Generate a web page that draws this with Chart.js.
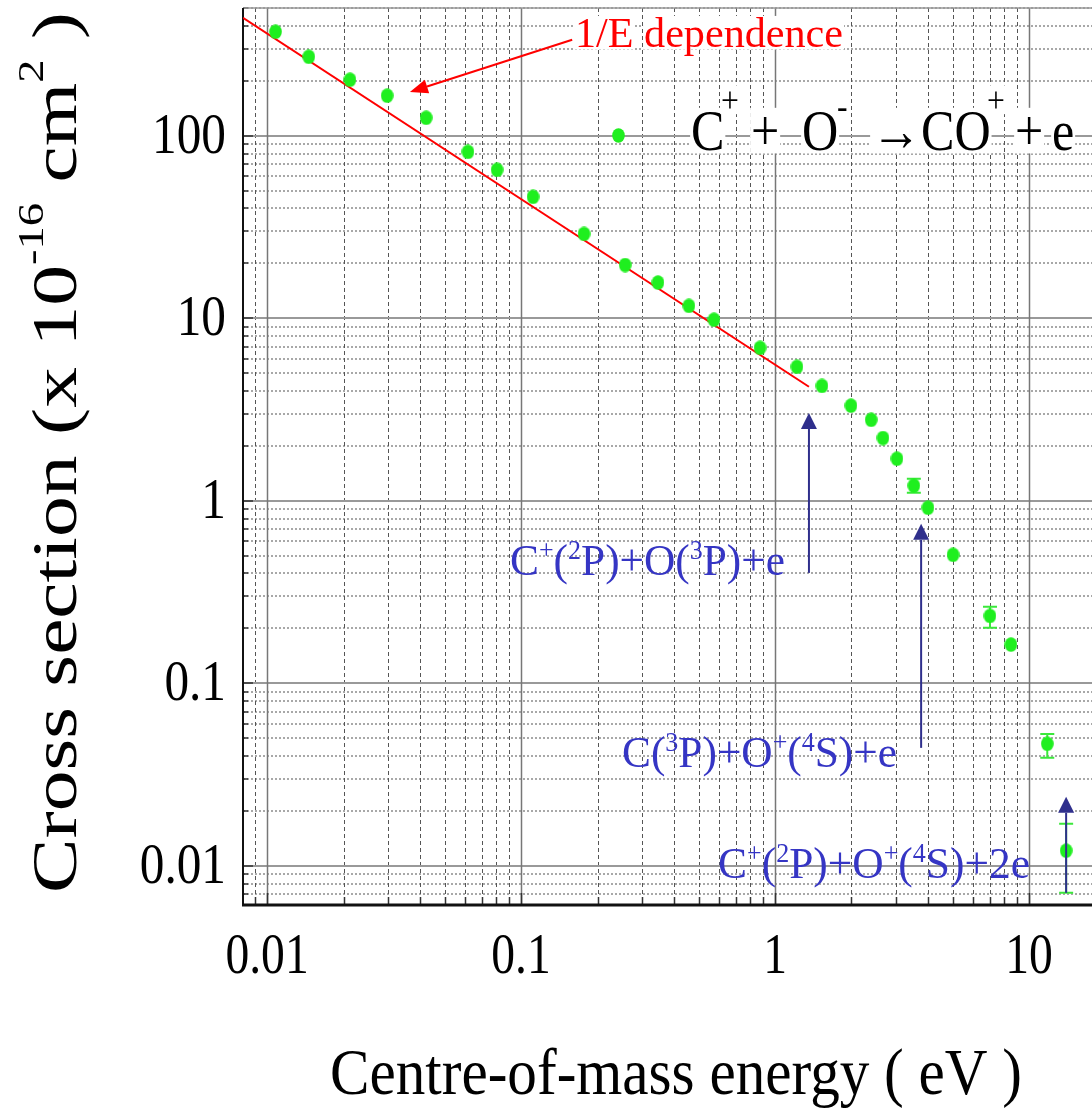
<!DOCTYPE html>
<html>
<head>
<meta charset="utf-8">
<script src="https://cdn.jsdelivr.net/npm/chart.js@4.4.0/dist/chart.umd.min.js"></script>
<style>
  body { margin: 0; background: #fff; }
  canvas { display: block; }
</style>
</head>
<body>
<canvas id="chart" width="1092" height="1111"></canvas>
<script>
// measured points: centre-of-mass energy (eV) vs cross section (1e-16 cm^2)
const energy = [0.0108, 0.0146, 0.0212, 0.0297, 0.0423, 0.0618, 0.0805, 0.1115, 0.177, 0.257,
  0.346, 0.458, 0.575, 0.873, 1.22, 1.53, 1.99, 2.39, 2.66, 3.02, 3.52, 4.00, 5.02, 7.02, 8.49, 11.8, 14.0];
const crossSection = [372, 271, 203, 166, 125.5, 81.7, 65.1, 46.3, 29.0, 19.6,
  15.7, 11.7, 9.82, 6.89, 5.42, 4.26, 3.32, 2.78, 2.21, 1.70, 1.21, 0.916, 0.506, 0.234, 0.163, 0.0466, 0.0121];
const errLow  = [null, null, null, null, null, null, null, null, null, null,
  null, null, null, null, null, null, null, null, null, null, 1.106, null, null, 0.2014, null, 0.0391, 0.00711];
const errHigh = [null, null, null, null, null, null, null, null, null, null,
  null, null, null, null, null, null, null, null, null, null, 1.32, null, null, 0.2626, null, 0.0528, 0.0170];

// 1/E dependence fit line end points
const fitEnergy = [0.00804, 1.36];
const fitSigma = [443, 4.22];

// tick labels
const xTickValues = [0.01, 0.1, 1, 10];
const xTickLabels = ['0.01', '0.1', '1', '10'];
const yTickValues = [0.01, 0.1, 1, 10, 100];
const yTickLabels = ['0.01', '0.1', '1', '10', '100'];

// threshold arrows [energy, tip sigma, tail sigma]
const thresholdArrows = [[1.36, 3.03, 0.403], [3.76, 0.748, 0.0443], [14.0, 0.0239, 0.00711]];

const serif = '"Liberation Serif", "Times New Roman", serif';

// green elliptical marker (picture is slightly stretched vertically)
const dot = document.createElement('canvas');
dot.width = 13; dot.height = 15;
(function () {
  const g = dot.getContext('2d');
  g.fillStyle = '#1fef1f';
  g.beginPath();
  g.ellipse(6.5, 7.5, 6.3, 7.3, 0, 0, Math.PI * 2);
  g.fill();
})();

// text with superscripts; segs = [[text, isSup], ...]
function drawRich(ctx, segs, o) {
  const ss = o.supSize || 0.6, sr = o.supRise || 0.36;
  const widths = segs.map(s => {
    ctx.font = (s[1] ? o.size * ss : o.size) + 'px ' + serif;
    return ctx.measureText(s[0]).width;
  });
  const w = widths.reduce((a, b) => a + b, 0);
  const sx = o.width ? o.width / w : (o.sx || 1);
  ctx.save();
  ctx.translate(o.x, o.y);
  if (o.rotate) ctx.rotate(o.rotate);
  const x0 = o.align === 'right' ? -w * sx : o.align === 'center' ? -w * sx / 2 : 0;
  ctx.translate(x0, 0);
  ctx.scale(sx, 1);
  ctx.textAlign = 'left';
  ctx.textBaseline = 'alphabetic';
  let cx = 0;
  segs.forEach((s, i) => {
    const fs = s[1] ? o.size * ss : o.size;
    const dy = s[1] ? -o.size * sr : 0;
    ctx.font = fs + 'px ' + serif;
    if (o.bg) {
      let bx = cx;
      for (const ch of s[0]) {
        const cw = ctx.measureText(ch).width;
        if (ch !== ' ') {
          ctx.fillStyle = o.bg;
          ctx.fillRect(bx - 1, dy - fs * 0.74, cw + 2, fs * 0.8);
        }
        bx += cw;
      }
    }
    ctx.fillStyle = o.color || '#000';
    ctx.fillText(s[0], cx, dy);
    cx += widths[i];
  });
  ctx.restore();
}

function drawArrow(ctx, x1, y1, x2, y2, color, lw, headLen, headHalf) {
  const a = Math.atan2(y2 - y1, x2 - x1);
  const bx = x2 - Math.cos(a) * headLen, by = y2 - Math.sin(a) * headLen;
  ctx.save();
  ctx.strokeStyle = color; ctx.fillStyle = color; ctx.lineWidth = lw;
  ctx.beginPath(); ctx.moveTo(x1, y1); ctx.lineTo(bx, by); ctx.stroke();
  ctx.beginPath();
  ctx.moveTo(x2, y2);
  ctx.lineTo(bx + Math.sin(a) * headHalf, by - Math.cos(a) * headHalf);
  ctx.lineTo(bx - Math.sin(a) * headHalf, by + Math.cos(a) * headHalf);
  ctx.closePath(); ctx.fill();
  ctx.restore();
}

function logValues(min, max) {
  const out = [];
  for (let d = -3; d <= 3; d++) {
    for (let m = 1; m <= 9; m++) {
      const v = m * Math.pow(10, d);
      if (v >= min && v <= max) out.push({ v: v, major: m === 1 });
    }
  }
  return out;
}

const gridPlugin = {
  id: 'grid',
  beforeDatasetsDraw(chart) {
    const { ctx, chartArea: { left, right, top, bottom }, scales: { x, y } } = chart;
    const xs = logValues(x.min, x.max), ys = logValues(y.min, y.max);
    ctx.save();
    // minor horizontals, dotted
    ctx.strokeStyle = '#a8a8a8'; ctx.lineWidth = 2; ctx.setLineDash([2, 2]);
    ys.filter(t => !t.major).forEach(t => {
      const py = Math.round(y.getPixelForValue(t.v));
      ctx.beginPath(); ctx.moveTo(left, py); ctx.lineTo(right, py); ctx.stroke();
    });
    // minor verticals, dashed
    ctx.strokeStyle = '#555'; ctx.lineWidth = 1; ctx.setLineDash([4, 3]);
    xs.filter(t => !t.major).forEach(t => {
      const px = Math.round(x.getPixelForValue(t.v)) + 0.5;
      ctx.beginPath(); ctx.moveTo(px, top); ctx.lineTo(px, bottom); ctx.stroke();
    });
    ctx.setLineDash([]);
    // majors
    ctx.strokeStyle = '#999'; ctx.lineWidth = 2;
    ys.filter(t => t.major).forEach(t => {
      const py = Math.round(y.getPixelForValue(t.v));
      ctx.beginPath(); ctx.moveTo(left, py); ctx.lineTo(right, py); ctx.stroke();
    });
    ctx.strokeStyle = '#777'; ctx.lineWidth = 1.5;
    xs.filter(t => t.major).forEach(t => {
      const px = Math.round(x.getPixelForValue(t.v)) + 0.5;
      ctx.beginPath(); ctx.moveTo(px, top); ctx.lineTo(px, bottom); ctx.stroke();
    });
    // small inward ticks
    ctx.strokeStyle = '#333'; ctx.lineWidth = 1.5;
    ys.forEach(t => {
      const py = Math.round(y.getPixelForValue(t.v));
      ctx.beginPath(); ctx.moveTo(left, py); ctx.lineTo(left + (t.major ? 10 : 5), py); ctx.stroke();
    });
    xs.forEach(t => {
      const px = Math.round(x.getPixelForValue(t.v)) + 0.5;
      ctx.beginPath(); ctx.moveTo(px, bottom); ctx.lineTo(px, bottom - (t.major ? 12 : 8)); ctx.stroke();
    });
    // frame
    ctx.strokeStyle = '#999'; ctx.lineWidth = 1.5;
    ctx.beginPath(); ctx.moveTo(left, top); ctx.lineTo(right, top); ctx.stroke();
    ctx.strokeStyle = '#111'; ctx.lineWidth = 2;
    ctx.beginPath(); ctx.moveTo(left, top); ctx.lineTo(left, bottom); ctx.stroke();
    ctx.lineWidth = 3;
    ctx.beginPath(); ctx.moveTo(left - 1, bottom); ctx.lineTo(right, bottom); ctx.stroke();

    // error bars
    ctx.strokeStyle = '#3be83b'; ctx.lineWidth = 2;
    energy.forEach((e, i) => {
      if (errLow[i] == null) return;
      const px = x.getPixelForValue(e);
      const y1 = y.getPixelForValue(errHigh[i]), y2 = y.getPixelForValue(errLow[i]);
      ctx.beginPath();
      ctx.moveTo(px, y1); ctx.lineTo(px, y2);
      ctx.moveTo(px - 7, y1); ctx.lineTo(px + 7, y1);
      ctx.moveTo(px - 7, y2); ctx.lineTo(px + 7, y2);
      ctx.stroke();
    });
    ctx.restore();
  },
  afterDatasetsDraw(chart) {
    const { ctx, scales: { x, y } } = chart;

    // legend marker and reaction, piece by piece: [text, left, baseline, size]
    ctx.drawImage(dot, 612, 128);
    const reaction = [['C', 691, 150, 57], ['+', 721, 112, 36], ['+', 751, 150, 57], ['O', 802, 150, 57],
      ['-', 837, 118, 36], ['\u2192', 871, 150, 57], ['CO', 921, 150, 57], ['+', 987, 112, 36],
      ['+', 1015, 150, 57], ['e', 1052, 150, 57]];
    reaction.forEach(r => {
      drawRich(ctx, [[r[0]]], { x: r[1], y: r[2], size: r[3], sx: 0.88, bg: '#fff' });
    });

    // 1/E label and arrow
    drawRich(ctx, [['1/E dependence']], { x: 575, y: 47, size: 42, width: 268, color: '#ff0000', bg: '#fff' });
    drawArrow(ctx, x.getPixelForValue(0.159), y.getPixelForValue(336),
      x.getPixelForValue(0.0365), y.getPixelForValue(174), '#ff0000', 2, 18, 7);

    // threshold arrows
    thresholdArrows.forEach(a => {
      const px = x.getPixelForValue(a[0]);
      drawArrow(ctx, px, y.getPixelForValue(a[2]), px, y.getPixelForValue(a[1]), '#2f2f8c', 2, 16, 8);
    });
    const blue = '#3535c4';
    drawRich(ctx, [['C'], ['+', 1], ['('], ['2', 1], ['P)+O('], ['3', 1], ['P)+e']],
      { x: 510, y: 575, size: 44, width: 275, color: blue });
    drawRich(ctx, [['C('], ['3', 1], ['P)+O'], ['+', 1], ['('], ['4', 1], ['S)+e']],
      { x: 622, y: 767, size: 44, width: 275, color: blue });
    drawRich(ctx, [['C'], ['+', 1], ['('], ['2', 1], ['P)+O'], ['+', 1], ['('], ['4', 1], ['S)+2e']],
      { x: 718, y: 878, size: 44, width: 312, color: blue });
  },
  afterDraw(chart) {
    const { ctx, scales: { x, y } } = chart;
    xTickValues.forEach((v, i) => {
      drawRich(ctx, [[xTickLabels[i]]], { x: x.getPixelForValue(v), y: 973, size: 56, sx: 0.85, align: 'center' });
    });
    yTickValues.forEach((v, i) => {
      drawRich(ctx, [[yTickLabels[i]]], { x: 226, y: y.getPixelForValue(v) + 17, size: 56, sx: 0.88, align: 'right' });
    });
    drawRich(ctx, [['Centre-of-mass energy ( eV )']], { x: 330, y: 1094, size: 65, width: 692 });
    drawRich(ctx, [['Cross section (x 10'], ['-16', 1], [' cm'], ['2', 1], [' )']],
      { x: 76, y: 893, size: 63, width: 881, rotate: -Math.PI / 2, supSize: 0.57, supRise: 0.52 });
  }
};

const ctx = document.getElementById('chart').getContext('2d');
new Chart(ctx, {
  type: 'scatter',
  data: {
    datasets: [
      {
        label: 'C+ + O- -> CO+ + e',
        data: energy.map((e, i) => ({ x: e, y: crossSection[i] })),
        pointStyle: dot,
        pointRadius: 7,
        showLine: false
      },
      {
        label: '1/E dependence',
        data: fitEnergy.map((e, i) => ({ x: e, y: fitSigma[i] })),
        showLine: true,
        borderColor: '#ff0000',
        borderWidth: 2,
        pointRadius: 0
      }
    ]
  },
  options: {
    responsive: false,
    animation: false,
    devicePixelRatio: 1,
    layout: { autoPadding: false, padding: { top: 8, left: 0, right: 0, bottom: 0 } },
    plugins: { legend: { display: false }, tooltip: { enabled: false } },
    scales: {
      x: {
        type: 'logarithmic',
        min: 0.00804,
        max: 17.7,
        grid: { display: false },
        border: { display: false },
        ticks: { display: false },
        afterFit: s => { s.height = 206; }
      },
      y: {
        type: 'logarithmic',
        min: 0.0061,
        max: 502,
        grid: { display: false },
        border: { display: false },
        ticks: { display: false },
        afterFit: s => { s.width = 243; }
      }
    }
  },
  plugins: [gridPlugin]
});
</script>
</body>
</html>
